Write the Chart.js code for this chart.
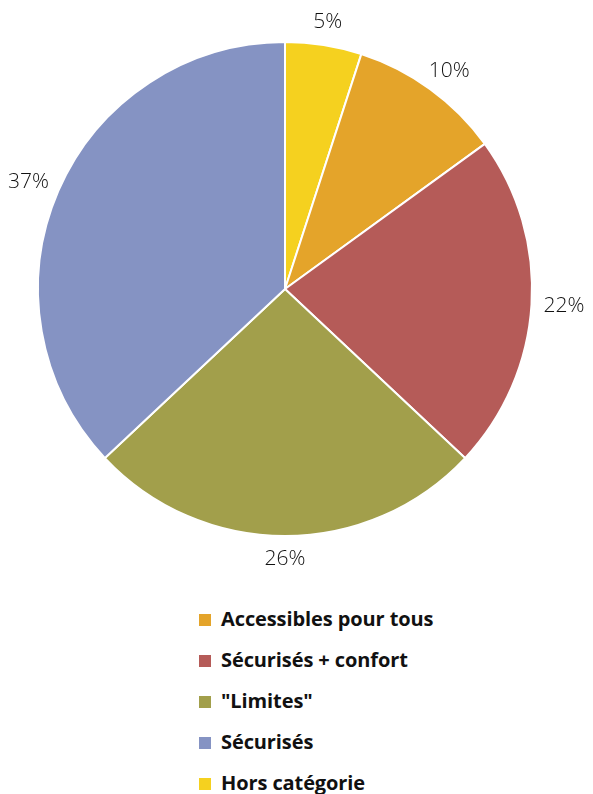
<!DOCTYPE html>
<html>
<head>
<meta charset="utf-8">
<script src="https://cdn.jsdelivr.net/npm/chart.js@4/dist/chart.umd.min.js"></script>
<style>
  body { margin: 0; background: #fff; width: 593px; height: 794px; overflow: hidden; position: relative; }
  #wrap { position: absolute; left: 0; top: 0; width: 593px; height: 578px; }
  #legend { position: absolute; left: 199px; top: 603px; font-family: "Open Sans", sans-serif; font-weight: bold; font-size: 20px; color: #111; }
  #legend div { height: 41px; line-height: 32px; white-space: nowrap; letter-spacing: -0.1px; }
  #legend span { display: inline-block; width: 12px; height: 12px; margin-right: 10px; vertical-align: 0px; }
</style>
</head>
<body>
<div id="wrap"><canvas id="pie"></canvas></div>
<div id="legend"></div>
<script>
// slices in drawing order, clockwise from 12 o'clock
var categories = ['Hors catégorie', 'Accessibles pour tous', 'Sécurisés + confort', '"Limites"', 'Sécurisés'];
var values = [5, 10, 22, 26, 37];
var colors = ['#F5D11F', '#E4A42A', '#B55B58', '#A29F4B', '#8593C3'];
// legend lists them in another order
var legendOrder = [1, 2, 3, 4, 0];

var outsideLabels = {
    id: 'outsideLabels',
    afterDatasetsDraw: function (chart) {
        var ctx = chart.ctx;
        var arcs = chart.getDatasetMeta(0).data;
        ctx.save();
        ctx.font = '300 21px "Open Sans", sans-serif';
        ctx.fillStyle = '#111';
        ctx.textAlign = 'center';
        ctx.textBaseline = 'middle';
        arcs.forEach(function (arc, i) {
            var mid = (arc.startAngle + arc.endAngle) / 2;
            var r = arc.outerRadius + 12;
            var txt = values[i] + '%';
            var w = ctx.measureText(txt).width;
            var h = 22;
            var x = arc.x + Math.cos(mid) * r + Math.cos(mid) * w / 2;
            var y = arc.y + Math.sin(mid) * r + Math.sin(mid) * h / 2;
            ctx.fillText(txt, x, y);
        });
        ctx.restore();
    }
};

new Chart(document.getElementById('pie'), {
    type: 'pie',
    data: {
        labels: categories,
        datasets: [{
            data: values,
            backgroundColor: colors,
            borderColor: '#fff',
            borderWidth: 2
        }]
    },
    options: {
        responsive: true,
        maintainAspectRatio: false,
        animation: false,
        layout: { padding: { left: 37, right: 60, top: 41, bottom: 41 } },
        plugins: {
            legend: { display: false },
            tooltip: { enabled: false }
        }
    },
    plugins: [outsideLabels]
});

var legend = document.getElementById('legend');
legendOrder.forEach(function (i) {
    var row = document.createElement('div');
    var box = document.createElement('span');
    box.style.background = colors[i];
    row.appendChild(box);
    row.appendChild(document.createTextNode(categories[i]));
    legend.appendChild(row);
});
</script>
</body>
</html>
